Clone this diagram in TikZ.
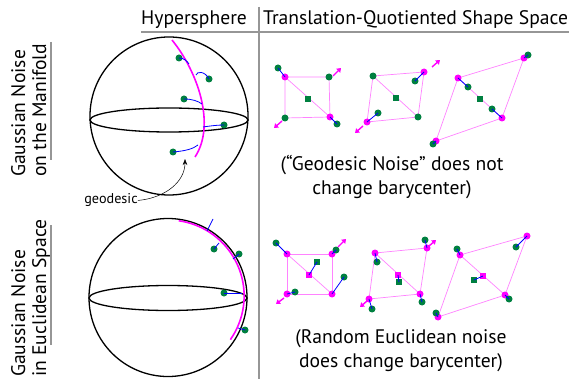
\documentclass[tikz,border=0pt]{standalone}
\usepackage{fontspec}
\setmainfont{PT Sans}
\usetikzlibrary{arrows.meta}
\definecolor{gcol}{RGB}{0,128,64}
\definecolor{magc}{RGB}{255,0,255}
\definecolor{pinkc}{RGB}{255,130,255}
\definecolor{grayl}{RGB}{150,150,150}
\begin{document}
\begin{tikzpicture}[x=1pt,y=-1pt,
  gdot/.style={circle,fill=gcol,inner sep=0pt,minimum size=7pt},
  mdot/.style={circle,fill=magc,inner sep=0pt,minimum size=7pt},
  gsq/.style={rectangle,fill=gcol,inner sep=0pt,minimum size=6pt},
  msq/.style={rectangle,fill=magc,inner sep=0pt,minimum size=6pt},
  edgeline/.style={draw=pinkc,line width=0.7pt},
  noise/.style={draw=blue,line width=0.8pt},
  marrow/.style={draw=magc,line width=1.4pt,-{Triangle[length=4pt,width=5.5pt]}},
  sph/.style={draw=black,line width=1.3pt},
  geo/.style={draw=magc,line width=1.6pt},
  sep/.style={draw=grayl,line width=1.8pt},
  big/.style={font=\fontsize{19.6}{24}\selectfont},
  small/.style={font=\fontsize{14.2}{16}\selectfont}
]
\useasboundingbox (0,0) rectangle (569,379);

% ---------- separators and headers
\coordinate (hl1) at (141,32); \coordinate (hl2) at (569,32);
\coordinate (vl1) at (259,7); \coordinate (vl2) at (259,379);
\draw[sep] (hl1) -- (hl2);
\draw[sep] (vl1) -- (vl2);
\node[big,anchor=base west,inner sep=0pt] (h1) at (141,25) {Hypersphere};
\node[big,anchor=base west,inner sep=0pt] (h2) at (263,25) {Translation-Quotiented Shape Space};

% ---------- side labels
\coordinate (sl1) at (51,42); \coordinate (sl2) at (51,160);
\coordinate (sl3) at (51,225); \coordinate (sl4) at (51,345);
\draw[sep] (sl1) -- (sl2);
\draw[sep] (sl3) -- (sl4);
\node[big,rotate=90,anchor=base west,inner sep=0pt] (la1) at (25,177) {Gaussian Noise};
\node[big,rotate=90,anchor=base west,inner sep=0pt] (la2) at (46,177) {on the Manifold};
\node[big,rotate=90,anchor=base west,inner sep=0pt] (lb1) at (25,377) {Gaussian Noise};
\node[big,rotate=90,anchor=base west,inner sep=0pt] (lb2) at (46,377) {in Euclidean Space};

% ---------- sphere 1
\draw[sph] (169,116) circle[radius=79];
\draw[sph] (169,120) ellipse[x radius=79,y radius=12];
\coordinate (g1s) at (172,40); \coordinate (g1e) at (195,157);
\draw[geo] (g1s) .. controls (198,72) and (216,125) .. (g1e);
\coordinate (p1) at (189,64);
\coordinate (p2) at (196,75);
\coordinate (p3) at (202,104);
\coordinate (p4) at (203,127);
\coordinate (p5) at (198,145);
\node[gdot] (u1) at (179,58) {};
\node[gdot] (u2) at (209,79) {};
\node[gdot] (u3) at (184,99) {};
\node[gdot] (u4) at (224,125) {};
\node[gdot] (u5) at (173,152) {};
\draw[noise] (u1.center) .. controls (184,58) and (187,61) .. (p1);
\draw[noise] (p2) .. controls (197,71) and (205,71) .. (u2.center);
\draw[noise] (u3.center) .. controls (192,99) and (198,101) .. (p3);
\draw[noise] (p4) .. controls (210,126) and (217,125) .. (u4.center);
\draw[noise] (u5.center) .. controls (185,151) and (193,149) .. (p5);
\node[small,anchor=base,inner sep=0pt] (geol) at (111,204) {geodesic};
\coordinate (geot) at (185,159);
\draw[line width=0.5pt,-{Stealth[length=6pt,width=4.5pt]}] (geol.east) .. controls (165,198) and (185,182) .. (geot);

% ---------- sphere 2
\draw[sph] (168,297.5) circle[radius=79];
\draw[sph] (168,298) ellipse[x radius=79,y radius=12.5];
\draw[geo] (168,297) ++(-82:77) arc[start angle=-82,end angle=35,radius=76];
\coordinate (q0a) at (213,219); \coordinate (q0b) at (207,231);
\draw[noise] (q0a) -- (q0b);
\coordinate (q1) at (219,243);
\coordinate (q2) at (233,259);
\coordinate (q3) at (242,293);
\coordinate (q4) at (238,328);
\node[gdot] (w1) at (214,249) {};
\node[gdot] (w2) at (239,254) {};
\node[gdot] (w3) at (224,293) {};
\node[gdot] (w4) at (245,330) {};
\draw[noise] (w1.center) -- (q1);
\draw[noise] (w2.center) -- (q2);
\draw[noise] (w3.center) -- (q3);
\draw[noise] (w4.center) -- (q4);

% ---------- top row shapes
% shape 1
\coordinate (ta1) at (285,77); \coordinate (tb1) at (329,77);
\coordinate (tc1) at (330,117); \coordinate (td1) at (285,118);
\draw[edgeline] (ta1) -- (tb1) -- (tc1) -- (td1) -- cycle;
\draw[edgeline] (ta1) -- (tc1);
\node[mdot] (TA1) at (ta1) {}; \node[gdot] (TB1) at (tb1) {};
\node[mdot] (TC1) at (tc1) {}; \node[gdot] (TD1) at (td1) {};
\node[gdot] (TA1n) at (278,68) {}; \node[gdot] (TC1n) at (337,124) {};
\draw[noise] (TA1.center) -- (TA1n.center);
\draw[noise] (TC1.center) -- (TC1n.center);
\node[gsq] (TS1) at (308,99) {};
\coordinate (ar1a) at (333,76); \coordinate (ar1b) at (341,68);
\coordinate (ar2a) at (282,121); \coordinate (ar2b) at (274,128);
\draw[marrow] (ar1a) -- (ar1b);
\draw[marrow] (ar2a) -- (ar2b);
% shape 2
\coordinate (ta2) at (373,76); \coordinate (tb2) at (424,72);
\coordinate (tc2) at (418,117); \coordinate (td2) at (367,122);
\draw[edgeline] (ta2) -- (tb2) -- (tc2) -- (td2) -- cycle;
\draw[edgeline] (ta2) -- (tc2);
\node[gdot] (TA2) at (ta2) {}; \node[mdot] (TB2) at (tb2) {};
\node[gdot] (TC2) at (tc2) {}; \node[mdot] (TD2) at (td2) {};
\node[gdot] (TB2n) at (415,81) {}; \node[gdot] (TD2n) at (378,113) {};
\draw[noise] (TB2.center) -- (TB2n.center);
\draw[noise] (TD2.center) -- (TD2n.center);
\node[gsq] (TS2) at (396,98) {};
\coordinate (ar3a) at (432,67); \coordinate (ar3b) at (440,60);
\coordinate (ar4a) at (363,126); \coordinate (ar4b) at (355,133);
\draw[marrow] (ar3a) -- (ar3b);
\draw[marrow] (ar4a) -- (ar4b);
% shape 3
\coordinate (ta3) at (458,78); \coordinate (tb3) at (524,58);
\coordinate (tc3) at (502,118); \coordinate (td3) at (436,141);
\draw[edgeline] (ta3) -- (tb3) -- (tc3) -- (td3) -- cycle;
\draw[edgeline] (ta3) -- (tc3);
\node[mdot] (TA3) at (ta3) {}; \node[mdot] (TB3) at (tb3) {};
\node[mdot] (TC3) at (tc3) {}; \node[mdot] (TD3) at (td3) {};
\node[gdot] (TA3n) at (468,87) {}; \node[gdot] (TB3n) at (528,55) {};
\node[gdot] (TC3n) at (492,109) {}; \node[gdot] (TD3n) at (433,144) {};
\draw[noise] (TA3.center) -- (TA3n.center);
\draw[noise] (TB3.center) -- (TB3n.center);
\draw[noise] (TC3.center) -- (TC3n.center);
\draw[noise] (TD3.center) -- (TD3n.center);
\node[gsq] (TS3) at (480,99) {};

\node[big,align=center,inner sep=0pt] (cap1) at (392,177) {(“Geodesic Noise” does not\\change barycenter)};

% ---------- bottom row shapes
% shape 1
\coordinate (ba1) at (287,254); \coordinate (bb1) at (332,254);
\coordinate (bc1) at (332,294); \coordinate (bd1) at (287,294);
\draw[edgeline] (ba1) -- (bb1) -- (bc1) -- (bd1) -- cycle;
\draw[edgeline] (ba1) -- (bc1);
\node[mdot] (BA1) at (ba1) {}; \node[mdot] (BB1) at (bb1) {};
\node[mdot] (BC1) at (bc1) {}; \node[mdot] (BD1) at (bd1) {};
\node[gdot] (BA1n) at (276,243) {}; \node[gdot] (BB1n) at (336,250) {};
\node[gdot] (BC1n) at (344,277) {}; \node[gdot] (BD1n) at (295,292) {};
\draw[noise] (BA1.center) -- (BA1n.center);
\draw[noise] (BB1.center) -- (BB1n.center);
\draw[noise] (BC1.center) -- (BC1n.center);
\draw[noise] (BD1.center) -- (BD1n.center);
\node[msq] (BM1) at (309,275) {};
\node[gsq] (BS1) at (317,262) {};
\draw[noise] (BM1.center) -- (BS1.center);
\coordinate (ar5a) at (338,247); \coordinate (ar5b) at (346,239);
\coordinate (ar6a) at (284,298); \coordinate (ar6b) at (276,304);
\draw[marrow] (ar5a) -- (ar5b);
\draw[marrow] (ar6a) -- (ar6b);
% shape 2
\coordinate (ba2) at (375,253); \coordinate (bb2) at (427,248);
\coordinate (bc2) at (420,294); \coordinate (bd2) at (369,299);
\draw[edgeline] (ba2) -- (bb2) -- (bc2) -- (bd2) -- cycle;
\draw[edgeline] (ba2) -- (bc2);
\node[mdot] (BA2) at (ba2) {}; \node[mdot] (BB2) at (bb2) {};
\node[mdot] (BC2) at (bc2) {}; \node[mdot] (BD2) at (bd2) {};
\node[gdot] (BA2n) at (377,262) {}; \node[gdot] (BB2n) at (425,240) {};
\node[gdot] (BC2n) at (422,302) {}; \node[gdot] (BD2n) at (372,309) {};
\draw[noise] (BA2.center) -- (BA2n.center);
\draw[noise] (BB2.center) -- (BB2n.center);
\draw[noise] (BC2.center) -- (BC2n.center);
\draw[noise] (BD2.center) -- (BD2n.center);
\node[msq] (BM2) at (398,275) {};
\node[gsq] (BS2) at (399,282) {};
\draw[noise] (BM2.center) -- (BS2.center);
\coordinate (ar7a) at (429,246); \coordinate (ar7b) at (436,240);
\coordinate (ar8a) at (367,301); \coordinate (ar8b) at (360,307);
\draw[marrow] (ar7a) -- (ar7b);
\draw[marrow] (ar8a) -- (ar8b);
% shape 3
\coordinate (ba3) at (460,255); \coordinate (bb3) at (527,236);
\coordinate (bc3) at (505,295); \coordinate (bd3) at (438,317);
\draw[edgeline] (ba3) -- (bb3) -- (bc3) -- (bd3) -- cycle;
\draw[edgeline] (ba3) -- (bc3);
\node[mdot] (BA3) at (ba3) {}; \node[mdot] (BB3) at (bb3) {};
\node[mdot] (BC3) at (bc3) {}; \node[mdot] (BD3) at (bd3) {};
\node[gdot] (BA3n) at (457,249) {}; \node[gdot] (BB3n) at (516,247) {};
\node[gdot] (BC3n) at (509,299) {}; \node[gdot] (BD3n) at (436,313) {};
\draw[noise] (BA3.center) -- (BA3n.center);
\draw[noise] (BB3.center) -- (BB3n.center);
\draw[noise] (BC3.center) -- (BC3n.center);
\draw[noise] (BD3.center) -- (BD3n.center);
\node[msq] (BM3) at (483,276) {};
\node[gsq] (BS3) at (474,280) {};
\draw[noise] (BM3.center) -- (BS3.center);

\node[big,align=center,inner sep=0pt] (cap2) at (401,351) {(Random Euclidean noise\\does change barycenter)};
\end{tikzpicture}
\end{document}
